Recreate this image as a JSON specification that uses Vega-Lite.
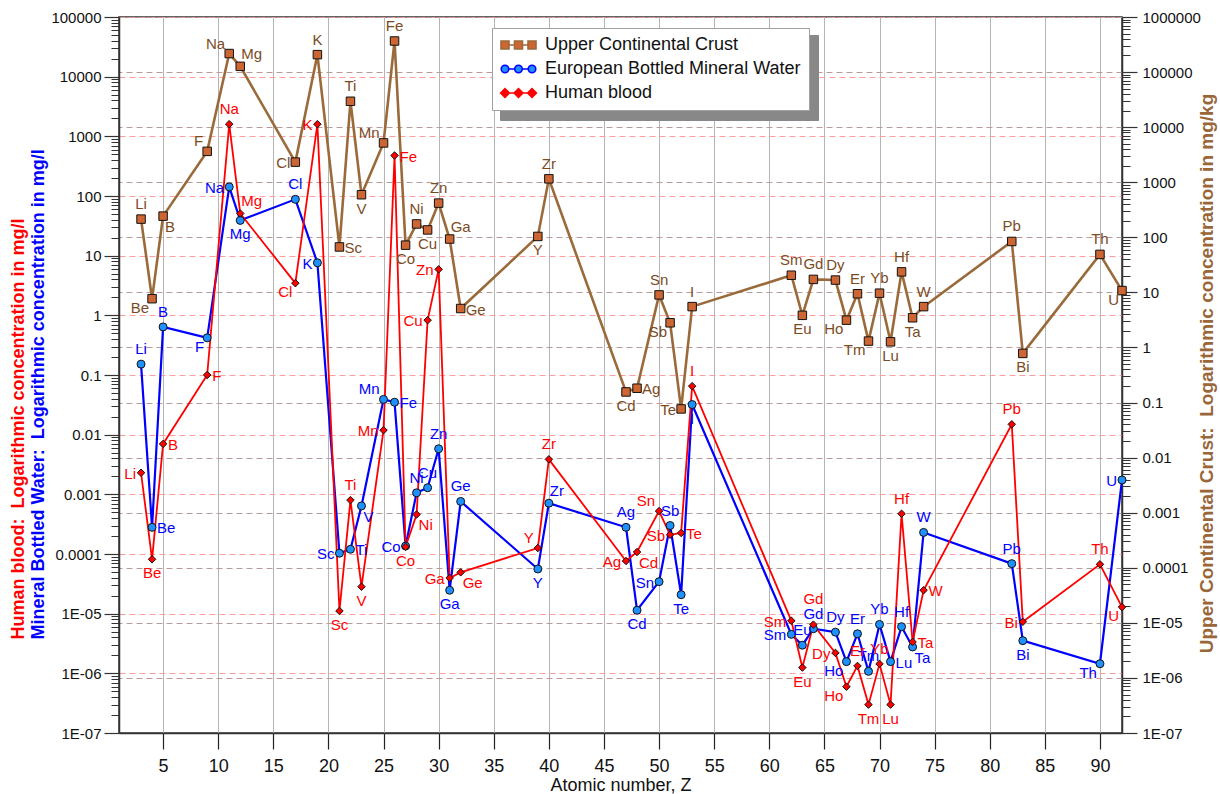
{
  "$schema": "https://vega.github.io/schema/vega-lite/v6.json",
  "width": 1003,
  "height": 716,
  "autosize": {"type": "none"},
  "padding": {"left": 119, "top": 17, "right": 98, "bottom": 61},
  "config": {
    "font": "Liberation Sans",
    "view": {"stroke": "#333333", "strokeWidth": 1.5}
  },
  "resolve": {"scale": {"y": "independent"}},
  "layer": [
    {
      "data": {"values": [
        {"s":"Upper Continental Crust","Z":3,"el":"Li","v":41,"pos":"t"},
        {"s":"Upper Continental Crust","Z":4,"el":"Be","v":1.9,"pos":"bl"},
        {"s":"Upper Continental Crust","Z":5,"el":"B","v":46,"pos":"br"},
        {"s":"Upper Continental Crust","Z":9,"el":"F","v":560,"pos":"tl"},
        {"s":"Upper Continental Crust","Z":11,"el":"Na","v":24400,"pos":"tl"},
        {"s":"Upper Continental Crust","Z":12,"el":"Mg","v":14900,"pos":"tr"},
        {"s":"Upper Continental Crust","Z":17,"el":"Cl","v":370,"pos":"l"},
        {"s":"Upper Continental Crust","Z":19,"el":"K","v":23400,"pos":"t"},
        {"s":"Upper Continental Crust","Z":21,"el":"Sc","v":14,"pos":"r"},
        {"s":"Upper Continental Crust","Z":22,"el":"Ti","v":3870,"pos":"t"},
        {"s":"Upper Continental Crust","Z":23,"el":"V","v":105,"pos":"b"},
        {"s":"Upper Continental Crust","Z":25,"el":"Mn","v":775,"pos":"tl"},
        {"s":"Upper Continental Crust","Z":26,"el":"Fe","v":39600,"pos":"t"},
        {"s":"Upper Continental Crust","Z":27,"el":"Co","v":15,"pos":"b"},
        {"s":"Upper Continental Crust","Z":28,"el":"Ni","v":34,"pos":"t"},
        {"s":"Upper Continental Crust","Z":29,"el":"Cu","v":27,"pos":"b"},
        {"s":"Upper Continental Crust","Z":30,"el":"Zn","v":76,"pos":"t"},
        {"s":"Upper Continental Crust","Z":31,"el":"Ga","v":19,"pos":"tr"},
        {"s":"Upper Continental Crust","Z":32,"el":"Ge","v":1.3,"pos":"r"},
        {"s":"Upper Continental Crust","Z":39,"el":"Y","v":21,"pos":"b"},
        {"s":"Upper Continental Crust","Z":40,"el":"Zr","v":194,"pos":"t"},
        {"s":"Upper Continental Crust","Z":47,"el":"Cd","v":0.052,"pos":"b"},
        {"s":"Upper Continental Crust","Z":48,"el":"Ag","v":0.06,"pos":"r"},
        {"s":"Upper Continental Crust","Z":50,"el":"Sn","v":2.2,"pos":"t"},
        {"s":"Upper Continental Crust","Z":51,"el":"Sb","v":0.75,"pos":"bl"},
        {"s":"Upper Continental Crust","Z":52,"el":"Te","v":0.027,"pos":"l"},
        {"s":"Upper Continental Crust","Z":53,"el":"I","v":1.4,"pos":"t"},
        {"s":"Upper Continental Crust","Z":62,"el":"Sm","v":4.7,"pos":"t"},
        {"s":"Upper Continental Crust","Z":63,"el":"Eu","v":1.0,"pos":"b"},
        {"s":"Upper Continental Crust","Z":64,"el":"Gd","v":4.0,"pos":"t"},
        {"s":"Upper Continental Crust","Z":66,"el":"Dy","v":3.9,"pos":"t"},
        {"s":"Upper Continental Crust","Z":67,"el":"Ho","v":0.83,"pos":"bl"},
        {"s":"Upper Continental Crust","Z":68,"el":"Er","v":2.3,"pos":"t"},
        {"s":"Upper Continental Crust","Z":69,"el":"Tm","v":0.37,"pos":"bl"},
        {"s":"Upper Continental Crust","Z":70,"el":"Yb","v":2.35,"pos":"t"},
        {"s":"Upper Continental Crust","Z":71,"el":"Lu","v":0.36,"pos":"b"},
        {"s":"Upper Continental Crust","Z":72,"el":"Hf","v":5.35,"pos":"t"},
        {"s":"Upper Continental Crust","Z":73,"el":"Ta","v":0.91,"pos":"b"},
        {"s":"Upper Continental Crust","Z":74,"el":"W","v":1.4,"pos":"t"},
        {"s":"Upper Continental Crust","Z":82,"el":"Pb","v":17.3,"pos":"t"},
        {"s":"Upper Continental Crust","Z":83,"el":"Bi","v":0.23,"pos":"b"},
        {"s":"Upper Continental Crust","Z":90,"el":"Th","v":10.5,"pos":"t"},
        {"s":"Upper Continental Crust","Z":92,"el":"U","v":2.6,"pos":"bl"},

        {"s":"European Bottled Mineral Water","Z":3,"el":"Li","v":0.152,"pos":"t"},
        {"s":"European Bottled Mineral Water","Z":4,"el":"Be","v":0.00028,"pos":"r"},
        {"s":"European Bottled Mineral Water","Z":5,"el":"B","v":0.64,"pos":"t"},
        {"s":"European Bottled Mineral Water","Z":9,"el":"F","v":0.42,"pos":"bl"},
        {"s":"European Bottled Mineral Water","Z":11,"el":"Na","v":142,"pos":"l"},
        {"s":"European Bottled Mineral Water","Z":12,"el":"Mg","v":39,"pos":"b"},
        {"s":"European Bottled Mineral Water","Z":17,"el":"Cl","v":88,"pos":"t"},
        {"s":"European Bottled Mineral Water","Z":19,"el":"K","v":7.6,"pos":"l"},
        {"s":"European Bottled Mineral Water","Z":21,"el":"Sc","v":0.000103,"pos":"l"},
        {"s":"European Bottled Mineral Water","Z":22,"el":"Ti","v":0.00012,"pos":"r"},
        {"s":"European Bottled Mineral Water","Z":23,"el":"V","v":0.00064,"pos":"br"},
        {"s":"European Bottled Mineral Water","Z":25,"el":"Mn","v":0.039,"pos":"tl"},
        {"s":"European Bottled Mineral Water","Z":26,"el":"Fe","v":0.035,"pos":"r"},
        {"s":"European Bottled Mineral Water","Z":27,"el":"Co","v":0.000136,"pos":"l"},
        {"s":"European Bottled Mineral Water","Z":28,"el":"Ni","v":0.00106,"pos":"t"},
        {"s":"European Bottled Mineral Water","Z":29,"el":"Cu","v":0.00129,"pos":"t"},
        {"s":"European Bottled Mineral Water","Z":30,"el":"Zn","v":0.0058,"pos":"t"},
        {"s":"European Bottled Mineral Water","Z":31,"el":"Ga","v":0.0000247,"pos":"b"},
        {"s":"European Bottled Mineral Water","Z":32,"el":"Ge","v":0.00076,"pos":"t"},
        {"s":"European Bottled Mineral Water","Z":39,"el":"Y","v":0.0000561,"pos":"b"},
        {"s":"European Bottled Mineral Water","Z":40,"el":"Zr","v":0.00071,"pos":"tr"},
        {"s":"European Bottled Mineral Water","Z":47,"el":"Ag","v":0.00028,"pos":"t"},
        {"s":"European Bottled Mineral Water","Z":48,"el":"Cd","v":0.0000114,"pos":"b"},
        {"s":"European Bottled Mineral Water","Z":50,"el":"Sn","v":0.0000344,"pos":"l"},
        {"s":"European Bottled Mineral Water","Z":51,"el":"Sb","v":0.0003,"pos":"t"},
        {"s":"European Bottled Mineral Water","Z":52,"el":"Te","v":0.0000208,"pos":"b"},
        {"s":"European Bottled Mineral Water","Z":53,"el":"I","v":0.032,"pos":"b"},
        {"s":"European Bottled Mineral Water","Z":62,"el":"Sm","v":0.0000045,"pos":"l"},
        {"s":"European Bottled Mineral Water","Z":63,"el":"Eu","v":0.00000296,"pos":"t"},
        {"s":"European Bottled Mineral Water","Z":64,"el":"Gd","v":0.0000056,"pos":"t"},
        {"s":"European Bottled Mineral Water","Z":66,"el":"Dy","v":0.0000049,"pos":"t"},
        {"s":"European Bottled Mineral Water","Z":67,"el":"Ho","v":0.00000157,"pos":"bl"},
        {"s":"European Bottled Mineral Water","Z":68,"el":"Er","v":0.0000046,"pos":"t"},
        {"s":"European Bottled Mineral Water","Z":69,"el":"Tm","v":0.00000108,"pos":"t"},
        {"s":"European Bottled Mineral Water","Z":70,"el":"Yb","v":0.0000066,"pos":"t"},
        {"s":"European Bottled Mineral Water","Z":71,"el":"Lu","v":0.00000157,"pos":"r"},
        {"s":"European Bottled Mineral Water","Z":72,"el":"Hf","v":0.00000605,"pos":"t"},
        {"s":"European Bottled Mineral Water","Z":73,"el":"Ta","v":0.00000277,"pos":"br"},
        {"s":"European Bottled Mineral Water","Z":74,"el":"W","v":0.00023,"pos":"t"},
        {"s":"European Bottled Mineral Water","Z":82,"el":"Pb","v":0.0000689,"pos":"t"},
        {"s":"European Bottled Mineral Water","Z":83,"el":"Bi","v":0.00000353,"pos":"b"},
        {"s":"European Bottled Mineral Water","Z":90,"el":"Th","v":0.00000145,"pos":"bl"},
        {"s":"European Bottled Mineral Water","Z":92,"el":"U","v":0.00174,"pos":"l"},

        {"s":"Human blood","Z":3,"el":"Li","v":0.0023,"pos":"l"},
        {"s":"Human blood","Z":4,"el":"Be","v":0.0000815,"pos":"b"},
        {"s":"Human blood","Z":5,"el":"B","v":0.007,"pos":"r"},
        {"s":"Human blood","Z":9,"el":"F","v":0.1,"pos":"r"},
        {"s":"Human blood","Z":11,"el":"Na","v":1600,"pos":"t"},
        {"s":"Human blood","Z":12,"el":"Mg","v":51,"pos":"tr"},
        {"s":"Human blood","Z":17,"el":"Cl","v":3.46,"pos":"bl"},
        {"s":"Human blood","Z":19,"el":"K","v":1600,"pos":"l"},
        {"s":"Human blood","Z":21,"el":"Sc","v":0.0000111,"pos":"b"},
        {"s":"Human blood","Z":22,"el":"Ti","v":0.0008,"pos":"t"},
        {"s":"Human blood","Z":23,"el":"V","v":0.0000283,"pos":"b"},
        {"s":"Human blood","Z":25,"el":"Mn","v":0.0119,"pos":"l"},
        {"s":"Human blood","Z":26,"el":"Fe","v":477,"pos":"r"},
        {"s":"Human blood","Z":27,"el":"Co","v":0.000132,"pos":"b"},
        {"s":"Human blood","Z":28,"el":"Ni","v":0.00046,"pos":"br"},
        {"s":"Human blood","Z":29,"el":"Cu","v":0.83,"pos":"l"},
        {"s":"Human blood","Z":30,"el":"Zn","v":5.9,"pos":"l"},
        {"s":"Human blood","Z":31,"el":"Ga","v":0.0000396,"pos":"l"},
        {"s":"Human blood","Z":32,"el":"Ge","v":0.0000493,"pos":"br"},
        {"s":"Human blood","Z":39,"el":"Y","v":0.000126,"pos":"tl"},
        {"s":"Human blood","Z":40,"el":"Zr","v":0.00386,"pos":"t"},
        {"s":"Human blood","Z":47,"el":"Ag","v":0.0000764,"pos":"l"},
        {"s":"Human blood","Z":48,"el":"Cd","v":0.000108,"pos":"br"},
        {"s":"Human blood","Z":50,"el":"Sn","v":0.000525,"pos":"tl"},
        {"s":"Human blood","Z":51,"el":"Sb","v":0.00021,"pos":"l"},
        {"s":"Human blood","Z":52,"el":"Te","v":0.000225,"pos":"r"},
        {"s":"Human blood","Z":53,"el":"I","v":0.065,"pos":"t"},
        {"s":"Human blood","Z":62,"el":"Sm","v":0.0000076,"pos":"l"},
        {"s":"Human blood","Z":63,"el":"Eu","v":0.00000125,"pos":"b"},
        {"s":"Human blood","Z":64,"el":"Gd","v":0.00000655,"pos":"tt"},
        {"s":"Human blood","Z":66,"el":"Dy","v":0.0000022,"pos":"l"},
        {"s":"Human blood","Z":67,"el":"Ho","v":0.000000598,"pos":"bl"},
        {"s":"Human blood","Z":68,"el":"Er","v":0.00000133,"pos":"t"},
        {"s":"Human blood","Z":69,"el":"Tm","v":0.000000299,"pos":"b"},
        {"s":"Human blood","Z":70,"el":"Yb","v":0.00000144,"pos":"t"},
        {"s":"Human blood","Z":71,"el":"Lu","v":0.000000299,"pos":"b"},
        {"s":"Human blood","Z":72,"el":"Hf","v":0.000473,"pos":"t"},
        {"s":"Human blood","Z":73,"el":"Ta","v":0.00000336,"pos":"r"},
        {"s":"Human blood","Z":74,"el":"W","v":0.0000247,"pos":"r"},
        {"s":"Human blood","Z":82,"el":"Pb","v":0.0149,"pos":"t"},
        {"s":"Human blood","Z":83,"el":"Bi","v":0.0000073,"pos":"l"},
        {"s":"Human blood","Z":90,"el":"Th","v":0.0000671,"pos":"t"},
        {"s":"Human blood","Z":92,"el":"U","v":0.0000129,"pos":"bl"}
      ]},
      "resolve": {
        "axis": {"y": "independent"},
        "scale": {"shape": "independent", "fill": "independent", "stroke": "independent"}
      },
      "encoding": {
        "x": {
          "field": "Z", "type": "quantitative",
          "scale": {"domain": [1, 92], "nice": false, "zero": false},
          "axis": {
            "values": [5,10,15,20,25,30,35,40,45,50,55,60,65,70,75,80,85,90],
            "tickSize": 16, "tickColor": "#222222", "tickWidth": 1.2,
            "domainColor": "#333333", "domainWidth": 1.5,
            "labelFontSize": 18, "labelPadding": 8, "labelColor": "#111111",
            "grid": true, "gridColor": "#b5b5b5", "gridWidth": 1,
            "title": "Atomic number, Z", "titleFontSize": 18, "titleFontWeight": "normal",
            "titlePadding": 1, "titleColor": "#111111"
          }
        }
      },
      "layer": [
        {
          "mark": {"type": "line"},
          "encoding": {
            "y": {
              "field": "v", "type": "quantitative",
              "scale": {"type": "log", "domain": [1e-7, 100000], "nice": false},
              "axis": {
                "orient": "left",
                "values": [1e-7,1e-6,1e-5,0.0001,0.001,0.01,0.1,1,10,100,1000,10000,100000],
                "labelExpr": "datum.value < 0.00005 ? '1E-0' + round(-log(datum.value)/LN10) : format(datum.value, '~f')",
                "labelFontSize": 15, "labelColor": "#111111", "labelPadding": 3,
                "tickSize": 15, "tickColor": "#333333", "tickWidth": 1.2,
                "domain": true, "domainColor": "#333333", "domainWidth": 1.5,
                "grid": true, "gridColor": "#ff9c9c", "gridDash": [6, 4], "gridWidth": 1,
                "title": "Human blood:\u00a0 Logarithmic concentration in mg/l",
                "titleColor": "#ff0000", "titleFontSize": 18, "titleFontWeight": "bold",
                "titleAngle": 270, "titleAlign": "left", "titleBaseline": "middle",
                "titleX": -101, "titleY": 622
              }
            },
            "stroke": {
              "field": "s", "type": "nominal",
              "scale": {"domain": ["Upper Continental Crust", "European Bottled Mineral Water", "Human blood"], "range": ["#9a6a3a", "#0000ff", "#ff0000"]},
              "legend": null
            },
            "strokeWidth": {
              "field": "s", "type": "nominal",
              "scale": {"domain": ["Upper Continental Crust", "European Bottled Mineral Water", "Human blood"], "range": [2.6, 1.8]},
              "legend": null
            }
          }
        },
        {
          "mark": {"type": "point", "filled": true, "stroke": "#111111", "strokeWidth": 1, "opacity": 1},
          "encoding": {
            "y": {
              "field": "v", "type": "quantitative",
              "scale": {"type": "log", "domain": [1e-7, 100000], "nice": false},
              "axis": {
                "orient": "left",
                "values": [2e-7,3e-7,4e-7,5e-7,6e-7,7e-7,8e-7,9e-7,2e-6,3e-6,4e-6,5e-6,6e-6,7e-6,8e-6,9e-6,2e-5,3e-5,4e-5,5e-5,6e-5,7e-5,8e-5,9e-5,0.0002,0.0003,0.0004,0.0005,0.0006,0.0007,0.0008,0.0009,0.002,0.003,0.004,0.005,0.006,0.007,0.008,0.009,0.02,0.03,0.04,0.05,0.06,0.07,0.08,0.09,0.2,0.3,0.4,0.5,0.6,0.7,0.8,0.9,2,3,4,5,6,7,8,9,20,30,40,50,60,70,80,90,200,300,400,500,600,700,800,900,2000,3000,4000,5000,6000,7000,8000,9000,20000,30000,40000,50000,60000,70000,80000,90000],
                "labels": false, "domain": false, "grid": false,
                "tickSize": 8, "tickColor": "#333333", "tickWidth": 1,
                "title": "Mineral Bottled Water:\u00a0 Logarithmic concentration in mg/l",
                "titleColor": "#0000ff", "titleFontSize": 18, "titleFontWeight": "bold",
                "titleAngle": 270, "titleAlign": "left", "titleBaseline": "middle",
                "titleX": -81, "titleY": 622
              }
            },
            "shape": {
              "field": "s", "type": "nominal",
              "scale": {"domain": ["Upper Continental Crust", "European Bottled Mineral Water", "Human blood"], "range": ["square", "circle", "diamond"]},
              "legend": null
            },
            "fill": {
              "field": "s", "type": "nominal",
              "scale": {"domain": ["Upper Continental Crust", "European Bottled Mineral Water", "Human blood"], "range": ["#cd6633", "#1e90ff", "#ff0000"]},
              "legend": null
            },
            "size": {
              "field": "s", "type": "nominal",
              "scale": {"domain": ["Upper Continental Crust", "European Bottled Mineral Water", "Human blood"], "range": [72, 56]},
              "legend": null
            }
          }
        },
        {
          "transform": [{"filter": "datum.pos === 't'"}],
          "mark": {"type": "text", "align": "center", "baseline": "middle", "dy": -15, "fontSize": 15},
          "encoding": {
            "y": {"field": "v", "type": "quantitative", "scale": {"type": "log", "domain": [1e-7, 100000], "nice": false}, "axis": null},
            "text": {"field": "el"},
            "color": {"field": "s", "type": "nominal", "scale": {"domain": ["Upper Continental Crust", "European Bottled Mineral Water", "Human blood"], "range": ["#7b4b1f", "#0000ff", "#ff0000"]}, "legend": null}
          }
        },
        {
          "transform": [{"filter": "datum.pos === 'tt'"}],
          "mark": {"type": "text", "align": "center", "baseline": "middle", "dy": -26, "fontSize": 15},
          "encoding": {
            "y": {"field": "v", "type": "quantitative", "scale": {"type": "log", "domain": [1e-7, 100000], "nice": false}, "axis": null},
            "text": {"field": "el"},
            "color": {"field": "s", "type": "nominal", "scale": {"domain": ["Upper Continental Crust", "European Bottled Mineral Water", "Human blood"], "range": ["#7b4b1f", "#0000ff", "#ff0000"]}, "legend": null}
          }
        },
        {
          "transform": [{"filter": "datum.pos === 'b'"}],
          "mark": {"type": "text", "align": "center", "baseline": "middle", "dy": 14, "fontSize": 15},
          "encoding": {
            "y": {"field": "v", "type": "quantitative", "scale": {"type": "log", "domain": [1e-7, 100000], "nice": false}, "axis": null},
            "text": {"field": "el"},
            "color": {"field": "s", "type": "nominal", "scale": {"domain": ["Upper Continental Crust", "European Bottled Mineral Water", "Human blood"], "range": ["#7b4b1f", "#0000ff", "#ff0000"]}, "legend": null}
          }
        },
        {
          "transform": [{"filter": "datum.pos === 'l'"}],
          "mark": {"type": "text", "align": "right", "baseline": "middle", "dx": -5, "dy": 1, "fontSize": 15},
          "encoding": {
            "y": {"field": "v", "type": "quantitative", "scale": {"type": "log", "domain": [1e-7, 100000], "nice": false}, "axis": null},
            "text": {"field": "el"},
            "color": {"field": "s", "type": "nominal", "scale": {"domain": ["Upper Continental Crust", "European Bottled Mineral Water", "Human blood"], "range": ["#7b4b1f", "#0000ff", "#ff0000"]}, "legend": null}
          }
        },
        {
          "transform": [{"filter": "datum.pos === 'r'"}],
          "mark": {"type": "text", "align": "left", "baseline": "middle", "dx": 5, "dy": 1, "fontSize": 15},
          "encoding": {
            "y": {"field": "v", "type": "quantitative", "scale": {"type": "log", "domain": [1e-7, 100000], "nice": false}, "axis": null},
            "text": {"field": "el"},
            "color": {"field": "s", "type": "nominal", "scale": {"domain": ["Upper Continental Crust", "European Bottled Mineral Water", "Human blood"], "range": ["#7b4b1f", "#0000ff", "#ff0000"]}, "legend": null}
          }
        },
        {
          "transform": [{"filter": "datum.pos === 'tl'"}],
          "mark": {"type": "text", "align": "right", "baseline": "middle", "dx": -4, "dy": -10, "fontSize": 15},
          "encoding": {
            "y": {"field": "v", "type": "quantitative", "scale": {"type": "log", "domain": [1e-7, 100000], "nice": false}, "axis": null},
            "text": {"field": "el"},
            "color": {"field": "s", "type": "nominal", "scale": {"domain": ["Upper Continental Crust", "European Bottled Mineral Water", "Human blood"], "range": ["#7b4b1f", "#0000ff", "#ff0000"]}, "legend": null}
          }
        },
        {
          "transform": [{"filter": "datum.pos === 'tr'"}],
          "mark": {"type": "text", "align": "left", "baseline": "middle", "dx": 1, "dy": -12, "fontSize": 15},
          "encoding": {
            "y": {"field": "v", "type": "quantitative", "scale": {"type": "log", "domain": [1e-7, 100000], "nice": false}, "axis": null},
            "text": {"field": "el"},
            "color": {"field": "s", "type": "nominal", "scale": {"domain": ["Upper Continental Crust", "European Bottled Mineral Water", "Human blood"], "range": ["#7b4b1f", "#0000ff", "#ff0000"]}, "legend": null}
          }
        },
        {
          "transform": [{"filter": "datum.pos === 'bl'"}],
          "mark": {"type": "text", "align": "right", "baseline": "middle", "dx": -3, "dy": 9, "fontSize": 15},
          "encoding": {
            "y": {"field": "v", "type": "quantitative", "scale": {"type": "log", "domain": [1e-7, 100000], "nice": false}, "axis": null},
            "text": {"field": "el"},
            "color": {"field": "s", "type": "nominal", "scale": {"domain": ["Upper Continental Crust", "European Bottled Mineral Water", "Human blood"], "range": ["#7b4b1f", "#0000ff", "#ff0000"]}, "legend": null}
          }
        },
        {
          "transform": [{"filter": "datum.pos === 'br'"}],
          "mark": {"type": "text", "align": "left", "baseline": "middle", "dx": 2, "dy": 11, "fontSize": 15},
          "encoding": {
            "y": {"field": "v", "type": "quantitative", "scale": {"type": "log", "domain": [1e-7, 100000], "nice": false}, "axis": null},
            "text": {"field": "el"},
            "color": {"field": "s", "type": "nominal", "scale": {"domain": ["Upper Continental Crust", "European Bottled Mineral Water", "Human blood"], "range": ["#7b4b1f", "#0000ff", "#ff0000"]}, "legend": null}
          }
        },
        {
          "transform": [{"filter": "false"}],
          "mark": {"type": "point", "filled": true, "strokeWidth": 1.6},
          "encoding": {
            "shape": {
              "field": "s", "type": "nominal",
              "scale": {"domain": ["Upper Continental Crust", "European Bottled Mineral Water", "Human blood"], "range": [
                "M-1,-0.5H0V0.5H-1Z M0,0H0.6875 M0.6875,-0.5H1.6875V0.5H0.6875Z M1.6875,0H2.375 M2.375,-0.5H3.375V0.5H2.375Z",
                "M-0.97,0A0.47,0.47 0 1,0 -0.03,0A0.47,0.47 0 1,0 -0.97,0Z M-0.03,0H0.7175 M0.7175,0A0.47,0.47 0 1,0 1.6575,0A0.47,0.47 0 1,0 0.7175,0Z M1.6575,0H2.405 M2.405,0A0.47,0.47 0 1,0 3.345,0A0.47,0.47 0 1,0 2.405,0Z",
                "M-1.05,0L-0.5,-0.55L0.05,0L-0.5,0.55Z M0.05,0H0.6375 M0.6375,0L1.1875,-0.55L1.7375,0L1.1875,0.55Z M1.7375,0H2.325 M2.325,0L2.875,-0.55L3.425,0L2.875,0.55Z"
              ]},
              "legend": {
                "title": null, "orient": "none", "legendX": 373, "legendY": 11, "zindex": 2,
                "fillColor": "#ffffff", "strokeColor": "#a0a0a0", "padding": 8,
                "symbolSize": 256, "symbolStrokeWidth": 1.6, "symbolOpacity": 1,
                "labelFontSize": 18, "labelColor": "#111111",
                "labelOffset": 27, "rowPadding": 6, "labelLimit": 400
              }
            },
            "fill": {
              "field": "s", "type": "nominal",
              "scale": {"domain": ["Upper Continental Crust", "European Bottled Mineral Water", "Human blood"], "range": ["#cd6633", "#1e90ff", "#ff0000"]},
              "legend": {
                "title": null, "orient": "none", "legendX": 373, "legendY": 11, "zindex": 2,
                "fillColor": "#ffffff", "strokeColor": "#a0a0a0", "padding": 8,
                "symbolSize": 256, "symbolStrokeWidth": 1.6, "symbolOpacity": 1,
                "labelFontSize": 18, "labelColor": "#111111",
                "labelOffset": 27, "rowPadding": 6, "labelLimit": 400
              }
            },
            "stroke": {
              "field": "s", "type": "nominal",
              "scale": {"domain": ["Upper Continental Crust", "European Bottled Mineral Water", "Human blood"], "range": ["#9a6a3a", "#0000ff", "#ff0000"]},
              "legend": {
                "title": null, "orient": "none", "legendX": 373, "legendY": 11, "zindex": 2,
                "fillColor": "#ffffff", "strokeColor": "#a0a0a0", "padding": 8,
                "symbolSize": 256, "symbolStrokeWidth": 1.6, "symbolOpacity": 1,
                "labelFontSize": 18, "labelColor": "#111111",
                "labelOffset": 27, "rowPadding": 6, "labelLimit": 400
              }
            }
          }
        },
        {
          "transform": [{"filter": "false"}],
          "mark": {"type": "point", "filled": true},
          "encoding": {
            "fill": {
              "field": "s", "type": "nominal",
              "scale": {"domain": ["Human blood", "European Bottled Mineral Water", "Upper Continental Crust"], "range": ["#888888", "#888888", "#888888"]},
              "legend": {
                "title": null, "orient": "none", "legendX": 381, "legendY": 18, "zindex": 1,
                "fillColor": "#888888", "strokeColor": "#888888", "padding": 8,
                "symbolSize": 324, "symbolOpacity": 0, "labelExpr": "''",
                "labelFontSize": 18, "labelOffset": 282, "rowPadding": 6, "labelLimit": 400
              }
            }
          }
        }
      ]
    },
    {
      "data": {"values": [{"v": 1e-7}, {"v": 1000000}]},
      "resolve": {"axis": {"y": "independent"}},
      "layer": [
        {
          "mark": {"type": "point", "opacity": 0},
          "encoding": {
            "y": {
              "field": "v", "type": "quantitative",
              "scale": {"type": "log", "domain": [1e-7, 1000000], "nice": false},
              "axis": {
                "orient": "right",
                "values": [1e-7,1e-6,1e-5,0.0001,0.001,0.01,0.1,1,10,100,1000,10000,100000,1000000],
                "labelExpr": "datum.value < 0.00005 ? '1E-0' + round(-log(datum.value)/LN10) : format(datum.value, '~f')",
                "labelFontSize": 15, "labelColor": "#111111", "labelPadding": 5,
                "tickSize": 15, "tickColor": "#333333", "tickWidth": 1.2,
                "domain": true, "domainColor": "#333333", "domainWidth": 1.5,
                "grid": true, "gridColor": "#b89c9c", "gridDash": [6, 4], "gridWidth": 1,
                "title": "Upper Continental Crust:\u00a0 Logarithmic concentration in mg/kg",
                "titleColor": "#99663a", "titleFontSize": 19, "titleFontWeight": "bold",
                "titleAngle": 270, "titleAlign": "center", "titleBaseline": "middle",
                "titleX": 84, "titleY": 356
              }
            }
          }
        },
        {
          "mark": {"type": "point", "opacity": 0},
          "encoding": {
            "y": {
              "field": "v", "type": "quantitative",
              "scale": {"type": "log", "domain": [1e-7, 1000000], "nice": false},
              "axis": {
                "orient": "right",
                "values": [2e-7,3e-7,4e-7,5e-7,6e-7,7e-7,8e-7,9e-7,2e-6,3e-6,4e-6,5e-6,6e-6,7e-6,8e-6,9e-6,2e-5,3e-5,4e-5,5e-5,6e-5,7e-5,8e-5,9e-5,0.0002,0.0003,0.0004,0.0005,0.0006,0.0007,0.0008,0.0009,0.002,0.003,0.004,0.005,0.006,0.007,0.008,0.009,0.02,0.03,0.04,0.05,0.06,0.07,0.08,0.09,0.2,0.3,0.4,0.5,0.6,0.7,0.8,0.9,2,3,4,5,6,7,8,9,20,30,40,50,60,70,80,90,200,300,400,500,600,700,800,900,2000,3000,4000,5000,6000,7000,8000,9000,20000,30000,40000,50000,60000,70000,80000,90000,200000,300000,400000,500000,600000,700000,800000,900000],
                "labels": false, "domain": false, "grid": false,
                "tickSize": 8, "tickColor": "#333333", "tickWidth": 1,
                "title": null
              }
            }
          }
        }
      ]
    }
  ]
}
